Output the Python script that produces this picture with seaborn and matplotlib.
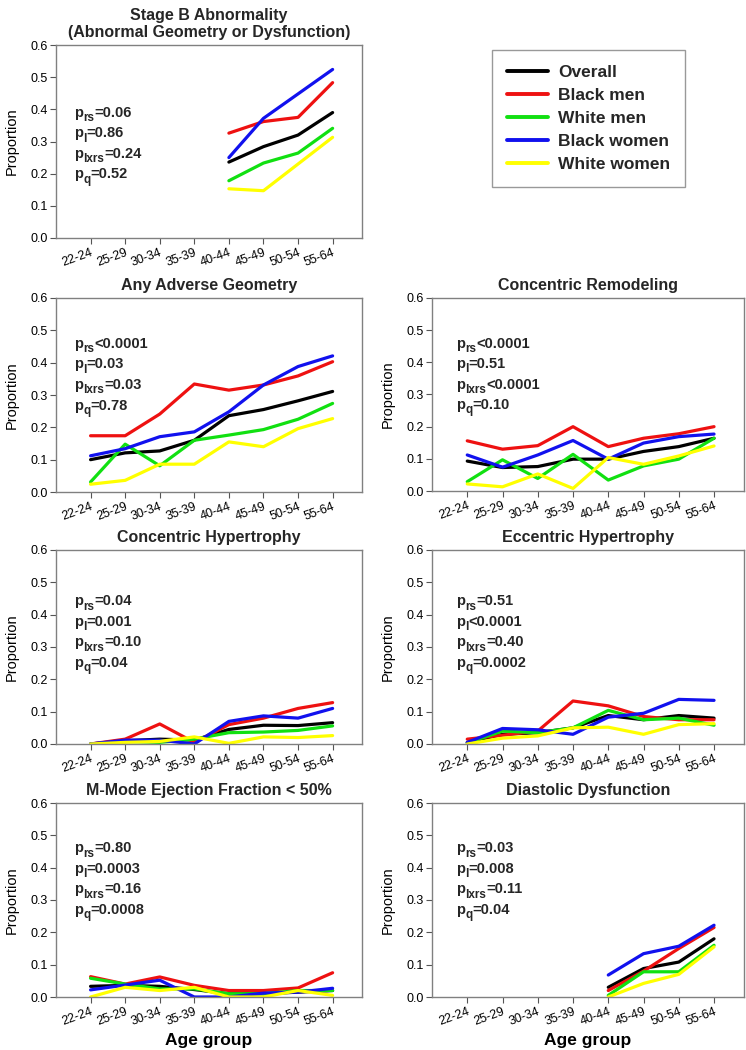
import matplotlib
matplotlib.use("Agg")
from matplotlib import pyplot as plt
from matplotlib.lines import Line2D
import numpy as np
import pandas as pd
import seaborn as sns

# age groups on the x axis
ages = ["22-24", "25-29", "30-34", "35-39", "40-44", "45-49", "50-54", "55-64"]
groups = ["Overall", "Black men", "White men", "Black women", "White women"]
colors = ["#000000", "#ee1111", "#11e011", "#1111ee", "#ffff00"]
nan = np.nan

# proportions (order of groups as above)
stage_b = [
    [nan, nan, nan, nan, 0.236, 0.284, 0.320, 0.390],
    [nan, nan, nan, nan, 0.326, 0.362, 0.375, 0.483],
    [nan, nan, nan, nan, 0.178, 0.233, 0.264, 0.341],
    [nan, nan, nan, nan, 0.250, 0.372, 0.448, 0.524],
    [nan, nan, nan, nan, 0.153, 0.147, 0.230, 0.313],
]
adverse_geom = [
    [0.100, 0.121, 0.127, 0.160, 0.236, 0.255, 0.282, 0.311],
    [0.174, 0.174, 0.241, 0.334, 0.315, 0.331, 0.359, 0.403],
    [0.031, 0.148, 0.081, 0.160, 0.176, 0.193, 0.225, 0.274],
    [0.112, 0.134, 0.171, 0.186, 0.248, 0.331, 0.388, 0.421],
    [0.024, 0.036, 0.086, 0.086, 0.155, 0.140, 0.196, 0.227],
]
conc_remodel = [
    [0.093, 0.073, 0.076, 0.099, 0.099, 0.123, 0.138, 0.164],
    [0.156, 0.130, 0.141, 0.200, 0.138, 0.164, 0.178, 0.200],
    [0.029, 0.097, 0.039, 0.114, 0.034, 0.078, 0.099, 0.164],
    [0.112, 0.074, 0.112, 0.157, 0.099, 0.149, 0.169, 0.177],
    [0.022, 0.013, 0.053, 0.008, 0.104, 0.083, 0.109, 0.140],
]
conc_hyper = [
    [0.000, 0.010, 0.015, 0.012, 0.045, 0.058, 0.057, 0.066],
    [0.000, 0.015, 0.062, 0.005, 0.060, 0.080, 0.110, 0.128],
    [0.000, 0.008, 0.005, 0.015, 0.035, 0.037, 0.042, 0.056],
    [0.000, 0.012, 0.012, 0.000, 0.070, 0.087, 0.080, 0.110],
    [0.000, 0.005, 0.008, 0.022, 0.002, 0.022, 0.020, 0.026],
]
ecc_hyper = [
    [0.005, 0.030, 0.035, 0.050, 0.088, 0.075, 0.088, 0.080],
    [0.015, 0.027, 0.040, 0.133, 0.118, 0.085, 0.075, 0.075],
    [0.003, 0.040, 0.035, 0.050, 0.104, 0.075, 0.080, 0.058],
    [0.005, 0.048, 0.044, 0.030, 0.083, 0.095, 0.138, 0.135],
    [0.000, 0.018, 0.025, 0.050, 0.052, 0.030, 0.060, 0.063],
]
ef_low = [
    [0.033, 0.036, 0.033, 0.023, 0.010, 0.010, 0.015, 0.020],
    [0.063, 0.040, 0.062, 0.036, 0.020, 0.020, 0.028, 0.075],
    [0.058, 0.040, 0.025, 0.025, 0.010, 0.010, 0.020, 0.020],
    [0.022, 0.037, 0.052, 0.000, 0.000, 0.012, 0.015, 0.027],
    [0.000, 0.030, 0.020, 0.030, 0.000, 0.000, 0.020, 0.005],
]
diastolic = [
    [nan, nan, nan, nan, 0.030, 0.088, 0.108, 0.180],
    [nan, nan, nan, nan, 0.020, 0.080, 0.150, 0.215],
    [nan, nan, nan, nan, 0.005, 0.078, 0.078, 0.160],
    [nan, nan, nan, nan, 0.068, 0.134, 0.157, 0.222],
    [nan, nan, nan, nan, 0.000, 0.042, 0.070, 0.155],
]

titles = ["Stage B Abnormality\n(Abnormal Geometry or Dysfunction)", "Any Adverse Geometry",
          "Concentric Remodeling", "Concentric Hypertrophy", "Eccentric Hypertrophy",
          "M-Mode Ejection Fraction < 50%", "Diastolic Dysfunction"]
panels = [stage_b, adverse_geom, conc_remodel, conc_hyper, ecc_hyper, ef_low, diastolic]
p_vals = [["=0.06", "=0.86", "=0.24", "=0.52"],
          ["<0.0001", "=0.03", "=0.03", "=0.78"],
          ["<0.0001", "=0.51", "<0.0001", "=0.10"],
          ["=0.04", "=0.001", "=0.10", "=0.04"],
          ["=0.51", "<0.0001", "=0.40", "=0.0002"],
          ["=0.80", "=0.0003", "=0.16", "=0.0008"],
          ["=0.03", "=0.008", "=0.11", "=0.04"]]
p_subs = ["rs", "l", "lxrs", "q"]

sns.set_style("white")
plt.rcParams["font.family"] = ["Liberation Sans", "DejaVu Sans"]

W, H = 746, 1050
fig = plt.figure(figsize=(W / 100, H / 100), dpi=100)

# axes boxes in pixels: left, top, right, bottom
boxes = [(56, 45, 362, 238), (56, 298, 362, 492), (432, 298, 744, 491),
         (56, 550, 362, 744), (432, 550, 744, 744), (56, 803, 362, 997), (432, 803, 744, 997)]
text_x = [0.059, 0.059, 0.077, 0.059, 0.077, 0.059, 0.077]
text_y = [0.627, 0.743, 0.743, 0.715, 0.715, 0.746, 0.746]

palette = dict(zip(groups, colors))

for i, (vals, box) in enumerate(zip(panels, boxes)):
    l, t, r, b = box
    ax = fig.add_axes([l / W, 1 - b / H, (r - l) / W, (b - t) / H])
    rows = []
    for g, series in zip(groups, vals):
        for k, v in enumerate(series):
            rows.append({"age": k, "prop": v, "group": g})
    df = pd.DataFrame(rows).dropna()
    sns.lineplot(data=df, x="age", y="prop", hue="group", hue_order=groups,
                 palette=palette, linewidth=2.3, legend=False, ax=ax, sort=False)
    ax.set_xlim(-1, 7.85)
    ax.set_ylim(0, 0.6)
    ax.set_yticks(np.arange(0, 0.61, 0.1))
    ax.set_yticklabels([f"{v:.1f}" for v in np.arange(0, 0.61, 0.1)], fontsize=9)
    ax.set_xticks(range(len(ages)))
    ax.set_xticklabels(ages, rotation=20, ha="right", rotation_mode="anchor", fontsize=9)
    ax.tick_params(axis="both", direction="out", length=4, width=0.8, color="#555555",
                   labelcolor="black", bottom=True, left=True, pad=2)
    for s in ax.spines.values():
        s.set_color("#808080")
        s.set_linewidth(1.0)
    ax.set_ylabel("Proportion", fontsize=10.5, labelpad=8, color="black")
    if i >= 5:
        ax.set_xlabel("Age group", fontsize=12.5, fontweight="bold", labelpad=4, color="black")
    else:
        ax.set_xlabel("")
    ax.set_title(titles[i], fontsize=11.5, fontweight="bold", pad=6, linespacing=1.1)
    # p-value notes: main letter, larger subscript, then the value on the same baseline
    for j, (sub, pv) in enumerate(zip(p_subs, p_vals[i])):
        pt = ax.text(text_x[i], text_y[i] - j * 0.106, "p", transform=ax.transAxes,
                     fontsize=10.5, fontweight="bold", va="baseline")
        st = ax.annotate(sub, xy=(1, 0), xycoords=pt, xytext=(0, -1), textcoords="offset points",
                         fontsize=8.5, fontweight="bold", va="baseline", ha="left")
        ax.annotate(pv, xy=(1, 0), xycoords=(st, pt), fontsize=10.5, fontweight="bold",
                    va="bottom", ha="left")

handles = [Line2D([0], [0], color=c, lw=2.8) for c in colors]
leg = fig.legend(handles, groups, loc="upper left", bbox_to_anchor=(492 / W, 1 - 50 / H),
                 borderaxespad=0, frameon=True, fancybox=False, edgecolor="#808080",
                 handlelength=2.35, labelspacing=0.45, borderpad=0.85, handletextpad=0.6,
                 prop={"weight": "bold", "size": 12.5})
leg.get_frame().set_linewidth(1.0)

fig.savefig("out.png", dpi=100)
